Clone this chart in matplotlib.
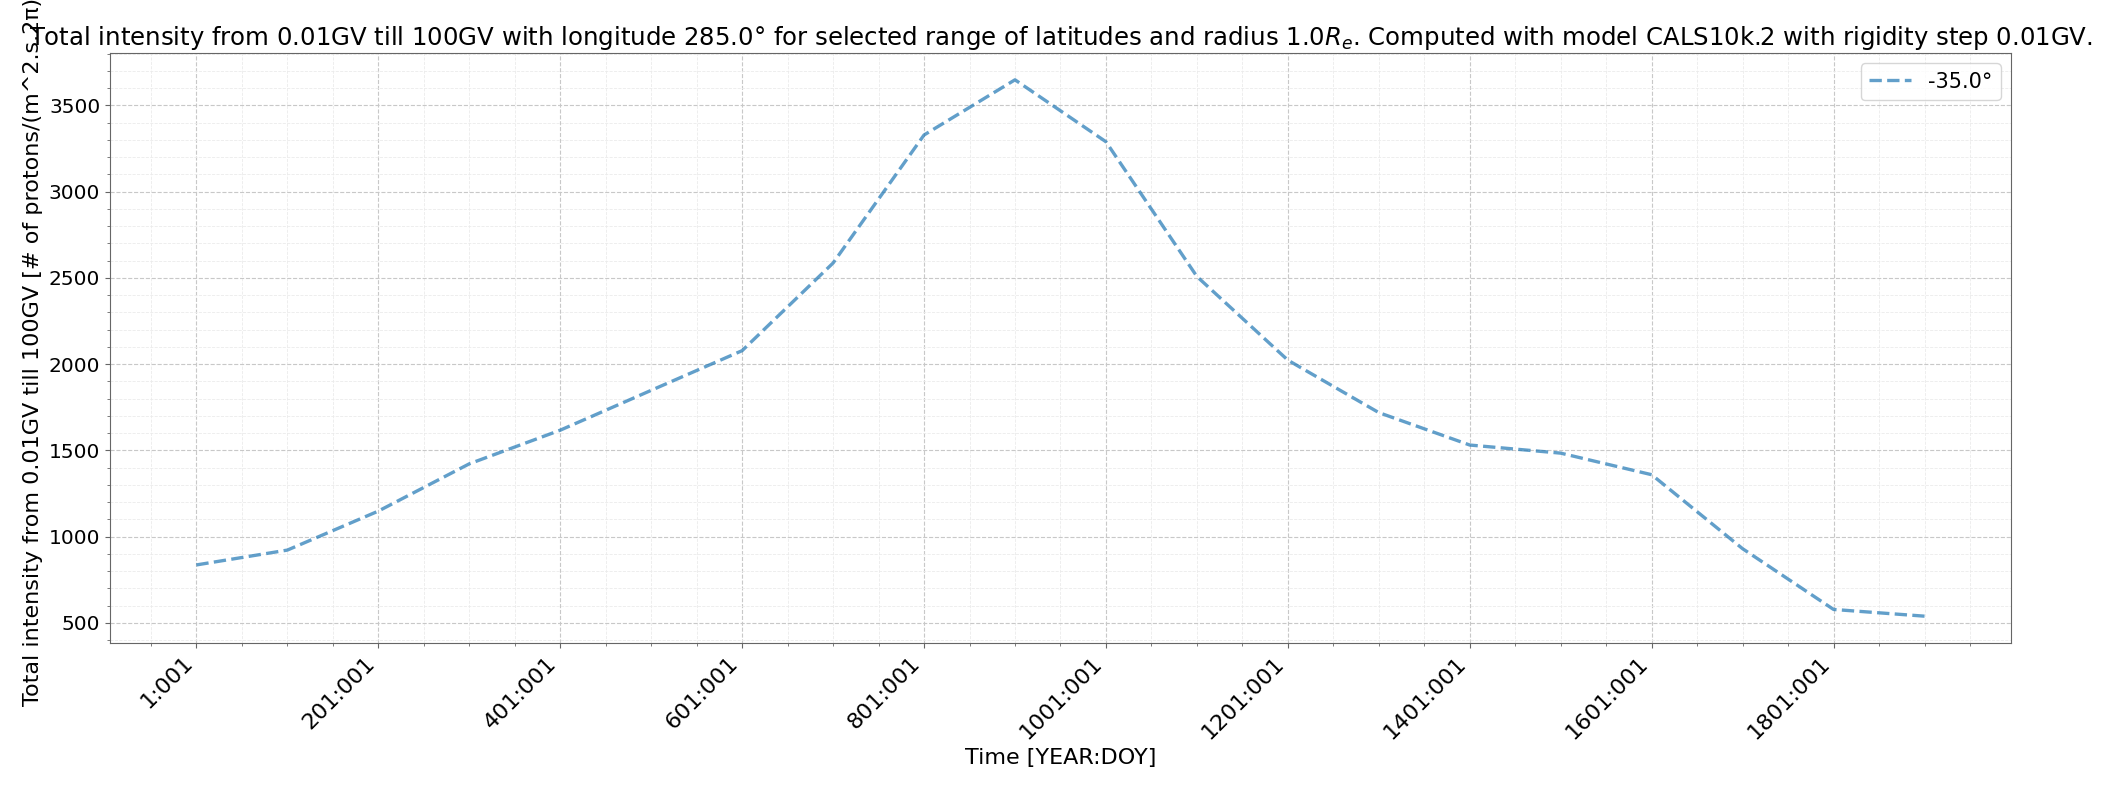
import matplotlib
matplotlib.use("Agg")
import matplotlib.pyplot as plt
from matplotlib.ticker import AutoMinorLocator, MultipleLocator

years = [1, 101, 201, 301, 401, 501, 601, 701, 801, 901, 1001, 1101, 1201,
         1301, 1401, 1501, 1601, 1701, 1801, 1901]
labels = [f"{y}:001" for y in years]
intensity = [836, 922, 1148, 1422, 1617, 1848, 2078, 2586, 3328, 3648, 3289,
             2508, 2023, 1719, 1531, 1484, 1359, 930, 578, 539]
series_label = "-35.0°"

fig = plt.figure(figsize=(21.11, 7.85), dpi=100)
ax = fig.add_axes([0.0521, 0.1809, 0.9005, 0.7516])

x = list(range(len(years)))
ax.plot(x, intensity, linestyle="--", color="#1f77b4", alpha=0.7, lw=2.4,
        label=series_label)

ax.set_xticks(x[::2])
ax.set_xticklabels(labels[::2], rotation=45, ha="right", fontsize=16)
ax.xaxis.set_minor_locator(AutoMinorLocator())
ax.yaxis.set_major_locator(MultipleLocator(500))
ax.yaxis.set_minor_locator(AutoMinorLocator())
ax.tick_params(axis="y", labelsize=14.5)
ax.tick_params(which="both", colors="#666666", labelcolor="black")
ax.tick_params(which="major", length=3.5)
ax.tick_params(which="minor", length=2)

ax.grid(which="major", linestyle="--", color="#c8c8c8", linewidth=0.8)
ax.grid(which="minor", linestyle="--", color="#ebebeb", linewidth=0.6)
for s in ax.spines.values():
    s.set_color("#666666")

ax.set_xlabel("Time [YEAR:DOY]", fontsize=16)
ax.set_ylabel("Total intensity from 0.01GV till 100GV [# of protons/(m^2.s.2π)]",
              fontsize=16)
ax.set_title("Total intensity from 0.01GV till 100GV with longitude 285.0° for selected "
             "range of latitudes and radius 1.0$R_e$. Computed with model CALS10k.2 "
             "with rigidity step 0.01GV.", fontsize=17.6)
ax.legend(loc="upper right", fontsize=15)

fig.savefig("out.png", dpi=100)
